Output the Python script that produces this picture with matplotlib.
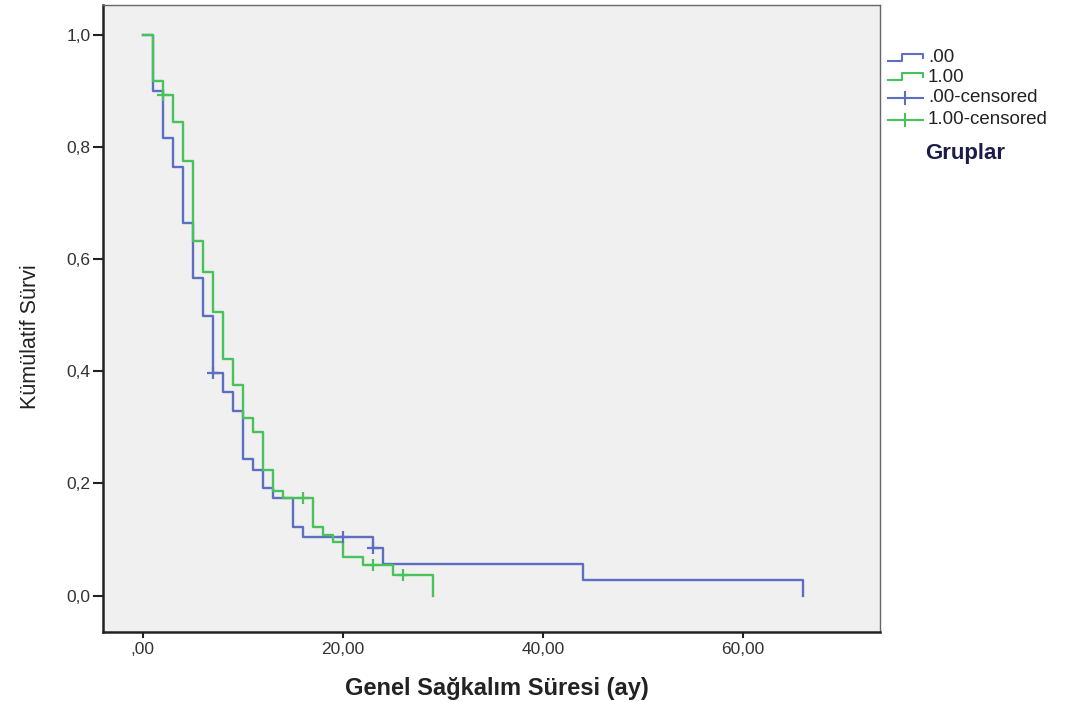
import matplotlib
matplotlib.use('Agg')
import matplotlib.pyplot as plt
from matplotlib.lines import Line2D

# Kaplan-Meier steps
times_0 = [0, 1, 2, 3, 4, 5, 6, 7, 8, 9, 10, 11, 12, 13, 15, 16, 23, 24, 44, 66]
surv_0 = [1.0, 0.90, 0.815, 0.764, 0.664, 0.566, 0.499, 0.397, 0.363, 0.329,
          0.243, 0.224, 0.192, 0.174, 0.123, 0.105, 0.0845, 0.0566, 0.028, 0.0]
cens_t_0 = [7, 20, 23]
cens_s_0 = [0.397, 0.105, 0.0845]

times_1 = [0, 1, 2, 3, 4, 5, 6, 7, 8, 9, 10, 11, 12, 13, 14, 17, 18, 19, 20, 22, 25, 29]
surv_1 = [1.0, 0.917, 0.893, 0.844, 0.774, 0.633, 0.577, 0.505, 0.422, 0.376, 0.316,
          0.2925, 0.223, 0.187, 0.174, 0.122, 0.108, 0.0946, 0.0696, 0.0548, 0.037, 0.0]
cens_t_1 = [2, 16, 23, 26]
cens_s_1 = [0.893, 0.174, 0.0548, 0.037]

x_ticks = [0, 20, 40, 60]
x_labels = [',00', '20,00', '40,00', '60,00']
y_ticks = [0.0, 0.2, 0.4, 0.6, 0.8, 1.0]
y_labels = ['0,0', '0,2', '0,4', '0,6', '0,8', '1,0']
legend_labels = ['.00', '1.00', '.00-censored', '1.00-censored']

plt.rcParams['font.family'] = ['Liberation Sans', 'DejaVu Sans']

blue = '#5d6fc2'
green = '#48c25a'
W, H = 1067, 702

fig = plt.figure(figsize=(W / 100, H / 100), dpi=100)
ax = fig.add_axes([103 / W, 1 - 632 / H, (880 - 103) / W, (632 - 5) / H])
ax.set_facecolor('#f0f0f0')

ax.step(times_0, surv_0, where='post', color=blue, lw=1.7)
ax.step(times_1, surv_1, where='post', color=green, lw=1.7)
ax.plot(cens_t_0, cens_s_0, ls='none', marker='+', ms=9, mew=1.6, color=blue)
ax.plot(cens_t_1, cens_s_1, ls='none', marker='+', ms=9, mew=1.6, color=green)

ax.set_xlim(-3.97, 73.7)
ax.set_ylim(-0.065, 1.053)
ax.set_xticks(x_ticks)
ax.set_xticklabels(x_labels)
ax.set_yticks(y_ticks)
ax.set_yticklabels(y_labels)
ax.tick_params(axis='x', direction='out', length=4.5, width=1.5, labelsize=12.5,
               labelcolor='#333333', color='#222222', pad=3)
ax.tick_params(axis='y', direction='out', length=7, width=1.5, labelsize=12.5,
               labelcolor='#333333', color='#222222', pad=2)

for side in ['left', 'bottom']:
    ax.spines[side].set_color('#222222')
    ax.spines[side].set_linewidth(1.8)
for side in ['top', 'right']:
    ax.spines[side].set_color('#666666')
    ax.spines[side].set_linewidth(1.0)


def px(x, y):
    return x / W, 1 - y / H


# axis titles placed where the reference has them
fig.text(*px(497, 688), 'Genel Sağkalım Süresi (ay)', fontsize=17, fontweight='bold',
         color='#222222', ha='center', va='center')
fig.text(*px(30, 337), 'Kümülatif Sürvi', fontsize=15.5, color='#222222',
         ha='center', va='center', rotation=90)

# hand-made legend on the right side
colors = [blue, green, blue, green]
rows = [58, 77, 98, 120]
for i, (lab, col, y) in enumerate(zip(legend_labels, colors, rows)):
    if i < 2:
        xs = [888, 902, 902, 923, 923]
        ys = [y + 3, y + 3, y - 4, y - 4, y]
        fig.add_artist(Line2D([px(a, b)[0] for a, b in zip(xs, ys)],
                              [px(a, b)[1] for a, b in zip(xs, ys)],
                              color=col, lw=1.5, transform=fig.transFigure))
    else:
        fig.add_artist(Line2D([px(888, y)[0], px(923, y)[0]], [px(888, y)[1]] * 2,
                              color=col, lw=1.5, transform=fig.transFigure))
        fig.add_artist(Line2D([px(905, y)[0]] * 2, [px(905, y - 6)[1], px(905, y + 6)[1]],
                              color=col, lw=1.5, transform=fig.transFigure))
    fig.text(*px(928, y), lab, fontsize=13.5, color='#222222', va='center', ha='left')

fig.text(*px(925, 153), 'Gruplar', fontsize=16, fontweight='bold', color='#1c1c48',
         va='center', ha='left')

fig.savefig('out.png', dpi=100)
